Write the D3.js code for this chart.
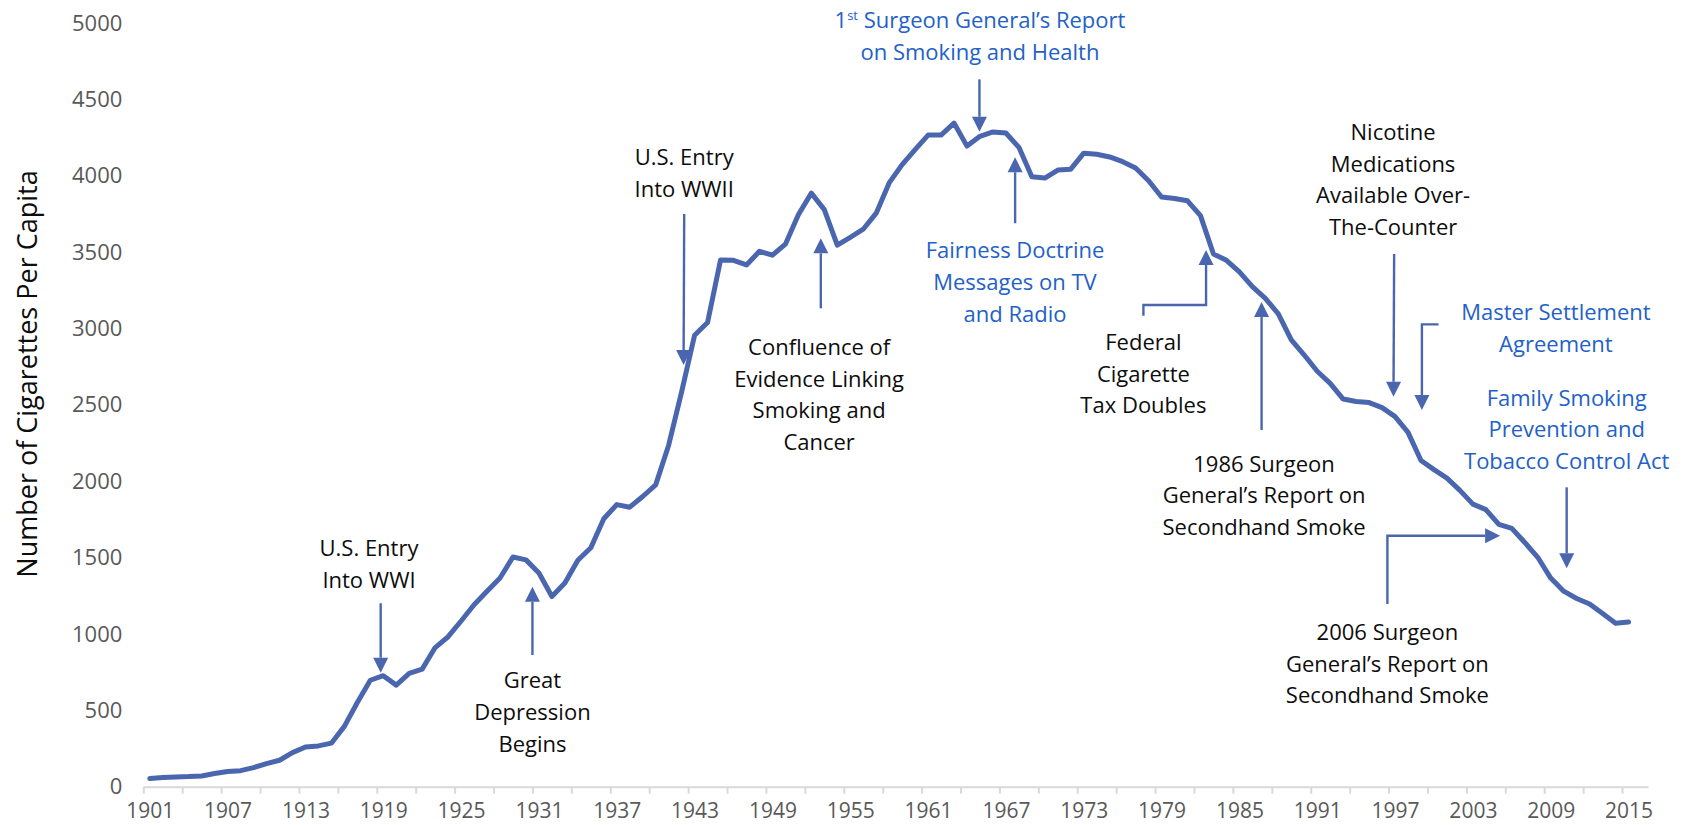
<!DOCTYPE html>
<html>
<head>
<meta charset="utf-8">
<script src="https://cdn.jsdelivr.net/npm/d3@7"></script>
<style>
  body { margin: 0; background: #fff; }
  svg { display: block; }
  text { font-family: "Open Sans", sans-serif; }
</style>
</head>
<body>
<div id="chart"></div>
<script>
// Chart size matches the reference window
const width = 1688;
const height = 825;

// Years on the category axis (one category per year, last one left empty)
const firstYear = 1901;
const lastYear = 2016;
const years = d3.range(firstYear, 2016);

// Adult per capita cigarette consumption, 1901-2015
const consumption = [
  53, 60, 64, 66, 70, 86, 99, 105, 125, 151,
  173, 223, 260, 267, 285, 395, 551, 697, 727, 665,
  742, 770, 911, 982, 1085, 1191, 1279, 1366, 1504, 1485,
  1399, 1245, 1334, 1483, 1564, 1754, 1847, 1830, 1900, 1976,
  2236, 2585, 2956, 3039, 3449, 3446, 3416, 3505, 3480, 3552,
  3744, 3886, 3778, 3546, 3597, 3650, 3755, 3953, 4073, 4171,
  4266, 4266, 4345, 4194, 4258, 4287, 4280, 4186, 3993, 3985,
  4037, 4043, 4148, 4141, 4123, 4092, 4051, 3967, 3861, 3851,
  3836, 3739, 3488, 3446, 3370, 3274, 3197, 3096, 2926, 2826,
  2720, 2641, 2538, 2522, 2515, 2482, 2423, 2320, 2136, 2076,
  2020, 1940, 1850, 1814, 1717, 1691, 1599, 1502, 1366, 1280,
  1232, 1196, 1134, 1070, 1078
];

// Tick values
const yTicks = [0, 500, 1000, 1500, 2000, 2500, 3000, 3500, 4000, 4500, 5000];
const xLabelYears = [1901, 1907, 1913, 1919, 1925, 1931, 1937, 1943, 1949, 1955,
  1961, 1967, 1973, 1979, 1985, 1991, 1997, 2003, 2009, 2015];
const xTickBoundaries = d3.range(firstYear - 0.5, lastYear, 3);

// Annotation texts
const wwiText = ["U.S. Entry", "Into WWI"];
const depressionText = ["Great", "Depression", "Begins"];
const wwiiText = ["U.S. Entry", "Into WWII"];
const confluenceText = ["Confluence of", "Evidence Linking", "Smoking and", "Cancer"];
const firstReportText = ["1|st| Surgeon General\u2019s Report", "on Smoking and Health"];
const fairnessText = ["Fairness Doctrine", "Messages on TV", "and Radio"];
const taxText = ["Federal", "Cigarette", "Tax Doubles"];
const report1986Text = ["1986 Surgeon", "General\u2019s Report on", "Secondhand Smoke"];
const nicotineText = ["Nicotine", "Medications", "Available Over-", "The-Counter"];
const settlementText = ["Master Settlement", "Agreement"];
const familyText = ["Family Smoking", "Prevention and", "Tobacco Control Act"];
const report2006Text = ["2006 Surgeon", "General\u2019s Report on", "Secondhand Smoke"];

const data = years.map((year, i) => ({ year: year, value: consumption[i] }));

const svg = d3.select("#chart")
  .append("svg")
  .attr("width", width)
  .attr("height", height);

// Category axis: each year gets one slot, ticks sit between slots
const x = d3.scaleLinear()
  .domain([firstYear - 0.5, lastYear + 0.5])
  .range([143.3, 1648]);

const y = d3.scaleLinear()
  .domain([0, 5000])
  .range([786.7, 23]);

// Y axis labels only (no line, no gridlines)
const yAxis = svg.append("g")
  .attr("transform", `translate(${x.range()[0]},0)`)
  .call(d3.axisLeft(y).tickValues(yTicks).tickSize(0).tickPadding(21).tickFormat(d3.format("d")));
yAxis.select(".domain").remove();
yAxis.selectAll("text")
  .style("font-family", "'Open Sans', sans-serif")
  .style("font-size", "22px")
  .attr("fill", "#595959");

// X axis line with tick marks every 3 categories
const xTicksG = svg.append("g")
  .attr("transform", `translate(0,${y(0)})`)
  .call(d3.axisBottom(x).tickValues(xTickBoundaries).tickSize(7).tickSizeOuter(0).tickFormat(""));
xTicksG.select(".domain").attr("stroke", "#d9d9d9").attr("stroke-width", 2);
xTicksG.selectAll(".tick line").attr("stroke", "#d9d9d9").attr("stroke-width", 2);

// X labels every 6 years, centred on the category
const xLabels = svg.append("g")
  .attr("transform", `translate(0,${y(0)})`)
  .call(d3.axisBottom(x).tickValues(xLabelYears).tickSize(0).tickFormat(d3.format("d")));
xLabels.select(".domain").remove();
xLabels.selectAll("text")
  .attr("y", 31.5)
  .attr("dy", null)
  .style("font-family", "'Open Sans', sans-serif")
  .style("font-size", "21px")
  .attr("fill", "#595959");

// Axis title
svg.append("text")
  .attr("transform", `translate(26,${374}) rotate(-90)`)
  .attr("text-anchor", "middle")
  .attr("dominant-baseline", "central")
  .style("font-size", "27px")
  .attr("fill", "#0d0d0d")
  .text("Number of Cigarettes Per Capita");

// The consumption line
const line = d3.line()
  .x(d => x(d.year))
  .y(d => y(d.value));

svg.append("path")
  .datum(data)
  .attr("d", line)
  .attr("fill", "none")
  .attr("stroke", "#4a66ae")
  .attr("stroke-width", 5)
  .attr("stroke-linejoin", "round")
  .attr("stroke-linecap", "round");

// Annotations: text anchor (year, value of first baseline) and arrow path in data units
const black = "#0d0d0d";
const blue = "#2361c8";
const annotations = [
  { lines: wwiText, color: black, tx: 1917.9, ty: 1510, arrow: [[1918.8, 1201], [1918.8, 746]] },
  { lines: depressionText, color: black, tx: 1930.5, ty: 644, arrow: [[1930.5, 862], [1930.5, 1309]] },
  { lines: wwiiText, color: black, tx: 1942.2, ty: 4070, arrow: [[1942.2, 3749], [1942.15, 2761]] },
  { lines: confluenceText, color: black, tx: 1952.6, ty: 2826, arrow: [[1952.73, 3132], [1952.73, 3590]] },
  { lines: firstReportText, color: blue, tx: 1965.0, ty: 4964, arrow: [[1964.96, 4631], [1964.96, 4288]] },
  { lines: fairnessText, color: blue, tx: 1967.7, ty: 3459, arrow: [[1967.71, 3689], [1967.71, 4121]] },
  { lines: taxText, color: black, tx: 1977.6, ty: 2859,
    arrow: [[1977.6, 3084], [1977.6, 3154], [1982.43, 3154], [1982.43, 3514]] },
  { lines: report1986Text, color: black, tx: 1986.9, ty: 2062, arrow: [[1986.71, 2335], [1986.71, 3173]] },
  { lines: nicotineText, color: black, tx: 1996.85, ty: 4234, arrow: [[1996.93, 3488], [1996.88, 2553]] },
  { lines: settlementText, color: blue, tx: 2009.4, ty: 3055,
    arrow: [[2000.35, 3027], [1999.07, 3027], [1999.07, 2466]] },
  { lines: familyText, color: blue, tx: 2010.23, ty: 2494, arrow: [[2010.23, 1960], [2010.23, 1430]] },
  { lines: report2006Text, color: black, tx: 1996.41, ty: 960,
    arrow: [[1996.41, 1196], [1996.41, 1643], [2005.1, 1643]] }
];

const lineHeight = 31.7;
const arrowColor = "#4a66ae";
const headLen = 15;
const headHalf = 7.5;

const notes = svg.append("g");

annotations.forEach(a => {
  // Text block, centred on tx
  const t = notes.append("text")
    .attr("text-anchor", "middle")
    .attr("fill", a.color)
    .style("font-size", "22px");
  a.lines.forEach((ln, i) => {
    const row = t.append("tspan")
      .attr("x", x(a.tx))
      .attr("y", y(a.ty) + i * lineHeight);
    // "|st|" marks a superscript part
    const parts = ln.split("|");
    parts.forEach((p, k) => {
      if (k === 1) {
        row.append("tspan").attr("dy", -8).style("font-size", "13px").text(p);
      } else if (k === 2) {
        row.append("tspan").attr("dy", 8).text(p);
      } else {
        row.append("tspan").text(p);
      }
    });
  });

  // Arrow: polyline, last point is the tip
  const pts = a.arrow.map(p => [x(p[0]), y(p[1])]);
  const tip = pts[pts.length - 1];
  const prev = pts[pts.length - 2];
  const dx = tip[0] - prev[0], dy = tip[1] - prev[1];
  const len = Math.hypot(dx, dy);
  const ux = dx / len, uy = dy / len;
  const base = [tip[0] - ux * headLen, tip[1] - uy * headLen];
  const shaft = pts.slice(0, -1).concat([base]);

  notes.append("path")
    .attr("d", d3.line()(shaft))
    .attr("fill", "none")
    .attr("stroke", arrowColor)
    .attr("stroke-width", 2.4);

  notes.append("path")
    .attr("d", d3.line()([
      tip,
      [base[0] - uy * headHalf, base[1] + ux * headHalf],
      [base[0] + uy * headHalf, base[1] - ux * headHalf]
    ]) + "Z")
    .attr("fill", arrowColor);
});
</script>
</body>
</html>
